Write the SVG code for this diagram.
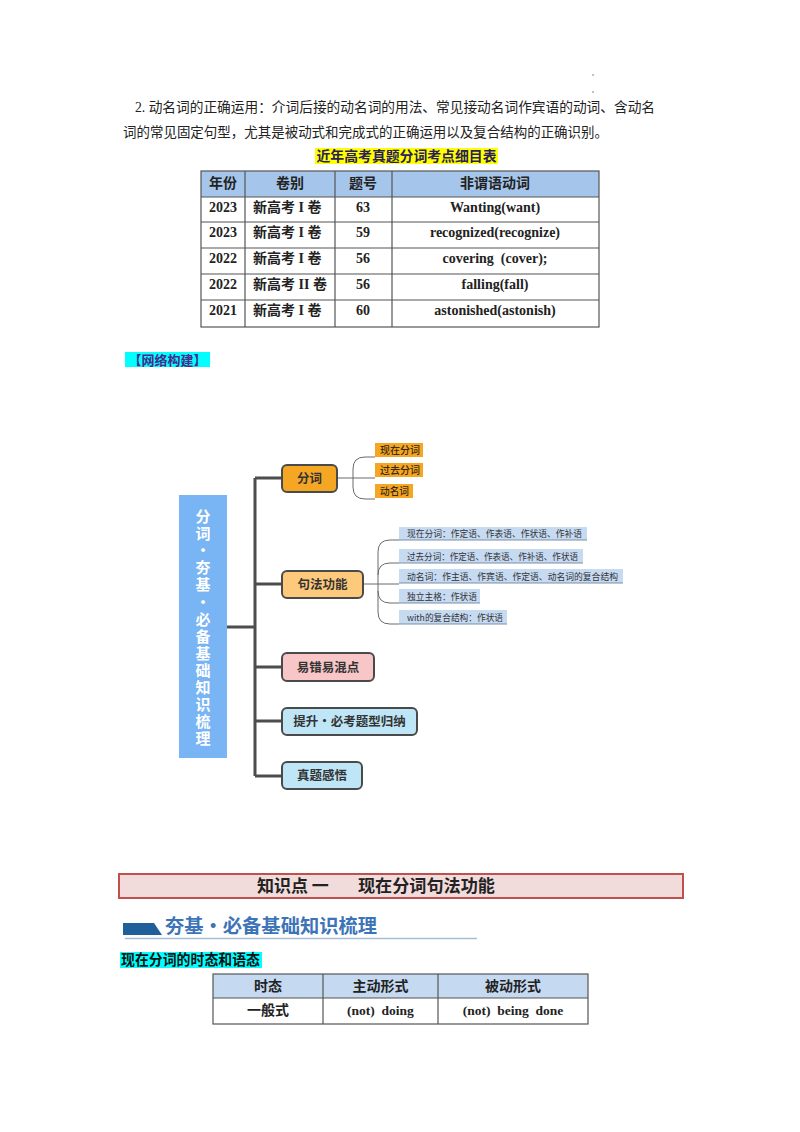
<svg xmlns="http://www.w3.org/2000/svg" width="800" height="1132" viewBox="0 0 800 1132">
<style>
.cjk{font-family:"Noto Sans CJK SC",sans-serif}
.ser{font-family:"Liberation Serif","Noto Sans CJK SC",serif}
.b{font-weight:bold}
.c{text-anchor:middle}
.tl{stroke:#555;stroke-width:1.2;fill:none}
.node{stroke:#4a4a4a;stroke-width:2}
.nt{font-family:"Noto Sans CJK SC",sans-serif;font-weight:bold;font-size:12.5px;fill:#333;text-anchor:middle}
.trunk{stroke:#4d4d4d;stroke-width:3;fill:none}
.br{stroke:#6b6b6b;stroke-width:1;fill:none}
.sub{fill:#f5a623}
.st{font-family:"Noto Sans CJK SC",sans-serif;font-size:10px;fill:#3a2a10;font-weight:500}
.fx{fill:#c6daf2}
.fl{stroke:#7d8ea8;stroke-width:1}
.ft{font-family:"Noto Sans CJK SC",sans-serif;font-size:9px;fill:#333}
</style>
<rect width="800" height="1132" fill="#fff"/>

<g id="paragraph">
<circle cx="593" cy="75" r="0.8" fill="#777"/>
<circle cx="593" cy="92" r="0.8" fill="#777"/>
<text x="135" y="112" font-size="14" class="ser" fill="#222" textLength="520" lengthAdjust="spacingAndGlyphs">2. 动名词的正确运用：介词后接的动名词的用法、常见接动名词作宾语的动词、含动名</text>
<text x="123" y="137" font-size="14" class="ser" fill="#222" textLength="485" lengthAdjust="spacingAndGlyphs">词的常见固定句型，尤其是被动式和完成式的正确运用以及复合结构的正确识别。</text>
</g>

<g id="table1">
<rect x="315" y="148" width="183" height="16" fill="#ffff00"/>
<text x="406.5" y="161" font-size="14" class="cjk b c" fill="#2a1e5c" textLength="180" lengthAdjust="spacingAndGlyphs">近年高考真题分词考点细目表</text>
<rect x="201" y="171" width="398" height="26" fill="#a5c6ea"/>
<rect x="201" y="171" width="398" height="156" class="tl"/>
<line x1="201" y1="197" x2="599" y2="197" class="tl"/>
<line x1="201" y1="222" x2="599" y2="222" class="tl"/>
<line x1="201" y1="248" x2="599" y2="248" class="tl"/>
<line x1="201" y1="274" x2="599" y2="274" class="tl"/>
<line x1="201" y1="300" x2="599" y2="300" class="tl"/>
<line x1="245" y1="171" x2="245" y2="327" class="tl"/>
<line x1="335" y1="171" x2="335" y2="327" class="tl"/>
<line x1="392" y1="171" x2="392" y2="327" class="tl"/>
<g class="cjk b" font-size="14" fill="#222">
<text x="223" y="188" class="c">年份</text>
<text x="290" y="188" class="c">卷别</text>
<text x="363" y="188" class="c">题号</text>
<text x="495" y="188" class="c">非谓语动词</text>
</g>
<g class="ser b" font-size="14" fill="#222">
<text x="223" y="212" class="c">2023</text>
<text x="223" y="237" class="c">2023</text>
<text x="223" y="263" class="c">2022</text>
<text x="223" y="289" class="c">2022</text>
<text x="223" y="315" class="c">2021</text>
<text x="253" y="212">新高考 I 卷</text>
<text x="253" y="237">新高考 I 卷</text>
<text x="253" y="263">新高考 I 卷</text>
<text x="253" y="289">新高考 II 卷</text>
<text x="253" y="315">新高考 I 卷</text>
<text x="363" y="212" class="c">63</text>
<text x="363" y="237" class="c">59</text>
<text x="363" y="263" class="c">56</text>
<text x="363" y="289" class="c">56</text>
<text x="363" y="315" class="c">60</text>
<text x="495" y="212" class="c">Wanting(want)</text>
<text x="495" y="237" class="c">recognized(recognize)</text>
<text x="495" y="263" class="c" xml:space="preserve">covering  (cover);</text>
<text x="495" y="289" class="c">falling(fall)</text>
<text x="495" y="315" class="c">astonished(astonish)</text>
</g>
</g>

<g id="network-label">
<rect x="125" y="352" width="85" height="15" fill="#00ffff"/>
<text x="167.5" y="364.5" font-size="13" class="cjk b c" fill="#4b2a8c">【网络构建】</text>
</g>

<g id="connectors">
<path class="trunk" d="M227,627 H255 M255,478 V776 M255,478 H282 M255,584 H282 M255,667 H282 M255,721 H282 M255,776 H282"/>
<path class="br" d="M337,478 H375 M375,457 H365 Q353,457 353,469 V487 Q353,499 365,499 H375"/>
<path class="br" d="M363,584 H399 M399,540 H390 Q378,540 378,552 V612 Q378,624 390,624 H399 M399,563 H390 Q378,563 378,575 M399,603 H390 Q378,603 378,591"/>
</g>

<g id="root">
<rect x="179" y="495" width="48" height="263" fill="#79b4f4"/>
<text x="203" y="509" font-size="15" class="cjk b" fill="#fff" style="writing-mode:vertical-rl;text-orientation:upright" textLength="237">分词·夯基·必备基础知识梳理</text>
</g>

<g id="node-fenci">
<rect x="282" y="465" width="55" height="27" rx="5" fill="#f5a623" class="node"/>
<text x="309.5" y="483" class="nt">分词</text>
</g>
<g id="node-xianzai">
<rect x="375" y="443" width="48" height="14" class="sub"/>
<text x="380" y="454" class="st" textLength="40" lengthAdjust="spacingAndGlyphs">现在分词</text>
</g>
<g id="node-guoqu">
<rect x="375" y="463" width="48" height="14" class="sub"/>
<text x="380" y="474" class="st" textLength="40" lengthAdjust="spacingAndGlyphs">过去分词</text>
</g>
<g id="node-dongming">
<rect x="375" y="484" width="38" height="14" class="sub"/>
<text x="380" y="495" class="st" textLength="29" lengthAdjust="spacingAndGlyphs">动名词</text>
</g>

<g id="node-jufa">
<rect x="282" y="571" width="81" height="27" rx="5" fill="#fdc97b" class="node"/>
<text x="322.5" y="589" class="nt">句法功能</text>
</g>
<g id="f1">
<rect x="399" y="527" width="188" height="13" class="fx"/>
<line x1="399" y1="540" x2="587" y2="540" class="fl"/>
<text x="407" y="537" class="ft" textLength="175" lengthAdjust="spacingAndGlyphs">现在分词：作定语、作表语、作状语、作补语</text>
</g>
<g id="f2">
<rect x="399" y="549" width="184" height="14" class="fx"/>
<line x1="399" y1="563" x2="583" y2="563" class="fl"/>
<text x="407" y="559.5" class="ft" textLength="171" lengthAdjust="spacingAndGlyphs">过去分词：作定语、作表语、作补语、作状语</text>
</g>
<g id="f3">
<rect x="399" y="569" width="224" height="14" class="fx"/>
<line x1="399" y1="583" x2="623" y2="583" class="fl"/>
<text x="407" y="579.5" class="ft" textLength="211" lengthAdjust="spacingAndGlyphs">动名词：作主语、作宾语、作定语、动名词的复合结构</text>
</g>
<g id="f4">
<rect x="399" y="589" width="81" height="14" class="fx"/>
<line x1="399" y1="603" x2="480" y2="603" class="fl"/>
<text x="407" y="599.5" class="ft" textLength="70" lengthAdjust="spacingAndGlyphs">独立主格：作状语</text>
</g>
<g id="f5">
<rect x="399" y="610" width="108" height="14" class="fx"/>
<line x1="399" y1="624" x2="507" y2="624" class="fl"/>
<text x="407" y="620.5" class="ft" textLength="96" lengthAdjust="spacingAndGlyphs">with的复合结构：作状语</text>
</g>

<g id="node-yicuo">
<rect x="282" y="653" width="92" height="28" rx="5" fill="#f8c6c6" class="node"/>
<text x="328" y="671.5" class="nt">易错易混点</text>
</g>
<g id="node-tisheng">
<rect x="282" y="708" width="135" height="27" rx="5" fill="#bfe6f7" class="node"/>
<text x="349.5" y="726" class="nt">提升·必考题型归纳</text>
</g>
<g id="node-zhenti">
<rect x="282" y="762" width="80" height="27" rx="5" fill="#bfe6f7" class="node"/>
<text x="322" y="780" class="nt">真题感悟</text>
</g>

<g id="section-header">
<rect x="119" y="874" width="564" height="24" fill="#f2dcdb" stroke="#c0504d" stroke-width="2"/>
<text x="257" y="892" font-size="17" class="cjk b" fill="#222">知识点 一</text>
<text x="358" y="892" font-size="17" class="cjk b" fill="#222" textLength="137" lengthAdjust="spacingAndGlyphs">现在分词句法功能</text>
</g>

<g id="banner">
<polygon points="123,923 154,923 162,935 123,935" fill="#1f5f9a"/>
<text x="165" y="933" font-size="19" class="cjk b" fill="#3d74b8" textLength="212" lengthAdjust="spacingAndGlyphs">夯基·必备基础知识梳理</text>
<line x1="125" y1="938.5" x2="477" y2="938.5" stroke="#a9bdd2" stroke-width="1.5"/>
</g>

<g id="table2">
<rect x="120" y="952" width="142" height="16" fill="#00ffff"/>
<text x="121" y="965" font-size="15" class="cjk b" fill="#111" textLength="139" lengthAdjust="spacingAndGlyphs">现在分词的时态和语态</text>
<rect x="213" y="974" width="375" height="24" fill="#c5d9f1"/>
<rect x="213" y="974" width="375" height="50" class="tl"/>
<line x1="213" y1="998" x2="588" y2="998" class="tl"/>
<line x1="323" y1="974" x2="323" y2="1024" class="tl"/>
<line x1="438" y1="974" x2="438" y2="1024" class="tl"/>
<g class="cjk b" font-size="14" fill="#222">
<text x="268" y="991" class="c">时态</text>
<text x="380.5" y="991" class="c">主动形式</text>
<text x="513" y="991" class="c">被动形式</text>
<text x="268" y="1015" class="c">一般式</text>
</g>
<g class="ser b" font-size="13.5" fill="#222">
<text x="380.5" y="1015" class="c" xml:space="preserve">(not)  doing</text>
<text x="513" y="1015" class="c" xml:space="preserve">(not)  being  done</text>
</g>
</g>
</svg>
